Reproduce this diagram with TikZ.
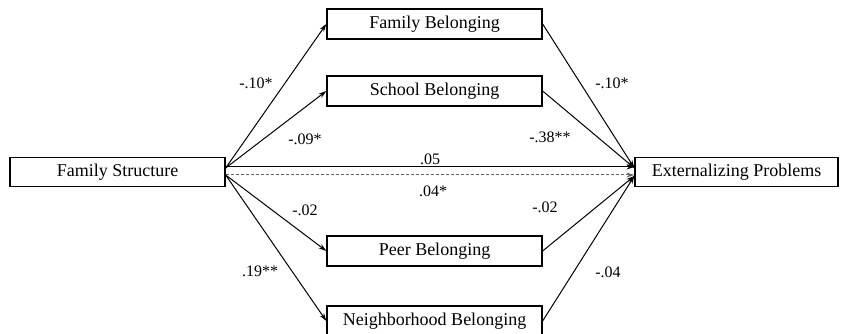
\documentclass[tikz,border=0pt]{standalone}
\usepackage{fontspec}
\setmainfont{Liberation Serif}
\usetikzlibrary{arrows.meta,calc}
\begin{document}
\begin{tikzpicture}[x=1pt,y=-1pt,
  box/.style={draw=black,line width=1.3pt,rectangle,inner sep=0pt,minimum height=29pt,
    font=\fontsize{18}{20}\selectfont},
  path/.style={draw=black,line width=1pt,-{Stealth[length=8pt,width=5pt]}},
  dpath/.style={draw=black!60,line width=1pt,dash pattern=on 3pt off 2pt,-{Stealth[length=8pt,width=5pt]}},
  lab/.style={font=\fontsize{16}{18}\selectfont,inner sep=0pt}]
\useasboundingbox (0,0) rectangle (841,334);
\fill[white] (0,0) rectangle (841,334);
\node[box,minimum width=215pt] (FS) at (117.5,172) {Family Structure};
\node[box,minimum width=203pt] (EP) at (736.5,172) {Externalizing Problems};
\node[box,minimum width=215pt,minimum height=30pt] (FB) at (434.5,24) {Family Belonging};
\node[box,minimum width=215pt,minimum height=30pt] (SB) at (434.5,91) {School Belonging};
\node[box,minimum width=215pt,minimum height=30pt] (PB) at (434.5,251) {Peer Belonging};
\node[box,minimum width=215pt,minimum height=30pt] (NB) at (434.5,321) {Neighborhood Belonging};
\coordinate (fsu) at ($(FS.east)+(0,-4)$);
\coordinate (fsd) at ($(FS.east)+(0,3)$);
\coordinate (epu) at ($(EP.west)+(0,-4)$);
\coordinate (epd) at ($(EP.west)+(0,4)$);
\draw[path] (fsu) -- (FB.west);
\draw[path] (fsu) -- (SB.west);
\draw[path] (fsd) -- (PB.west);
\draw[path] (fsd) -- (NB.west);
\draw[path] ($(FS.east)+(0,-5)$) -- ($(EP.west)+(0,-5)$);
\draw[dpath] ($(FS.east)+(0,3)$) -- ($(EP.west)+(0,3)$);
\draw[path] (FB.east) -- (epu);
\draw[path] (SB.east) -- (epu);
\draw[path] (PB.east) -- (epd);
\draw[path] (NB.east) -- (epd);
\node[lab] (l1) at (256,83) {-.10*};
\node[lab] (l2) at (305,139) {-.09*};
\node[lab] (l3) at (612,83) {-.10*};
\node[lab] (l4) at (550,137) {-.38**};
\node[lab] (l5) at (430,159) {.05};
\node[lab] (l6) at (433,191) {.04*};
\node[lab] (l7) at (305,210) {-.02};
\node[lab] (l8) at (260,271) {.19**};
\node[lab] (l9) at (545,207) {-.02};
\node[lab] (l10) at (608,272) {-.04};
\end{tikzpicture}
\end{document}
